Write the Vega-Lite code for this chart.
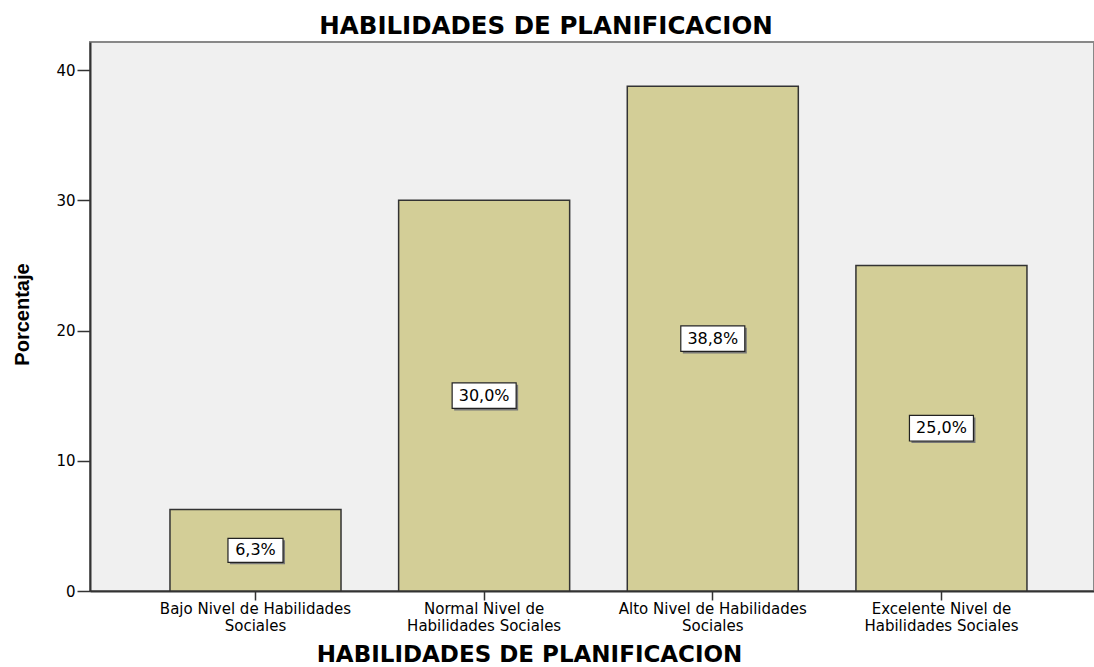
{
  "$schema": "https://vega.github.io/schema/vega-lite/v6.json",
  "width": 1004,
  "height": 549,
  "autosize": {"type": "none"},
  "padding": {"left": 90, "top": 42, "right": 0, "bottom": 76},
  "background": "white",
  "title": {
    "text": "HABILIDADES DE PLANIFICACION",
    "font": "DejaVu Sans",
    "fontSize": 24.5,
    "fontWeight": "bold",
    "color": "#000",
    "anchor": "middle",
    "frame": "group",
    "baseline": "alphabetic",
    "offset": 9,
    "dx": -46,
    "dy": 25
  },
  "config": {
    "view": {"fill": "#f0f0f0", "stroke": "#888", "strokeWidth": 2},
    "axisY": {
      "titleFont": "Liberation Sans",
      "titleFontSize": 20,
      "titleFontWeight": "bold",
      "titleColor": "#000",
      "titleAngle": 270,
      "titleBaseline": "alphabetic",
      "titleAlign": "center",
      "titleX": -61.5,
      "titleY": 272,
      "tickSize": 13,
      "tickColor": "#333",
      "tickWidth": 1.5,
      "domainColor": "#333",
      "domainWidth": 2,
      "labelFont": "DejaVu Sans",
      "labelFontSize": 15,
      "labelColor": "#000",
      "labelPadding": 2,
      "grid": false
    }
  },
  "data": {
    "values": [
      {"categoria": "Bajo Nivel de Habilidades Sociales", "porcentaje": 6.25, "etiqueta": "6,3%"},
      {"categoria": "Normal Nivel de Habilidades Sociales", "porcentaje": 30.0, "etiqueta": "30,0%"},
      {"categoria": "Alto Nivel de Habilidades Sociales", "porcentaje": 38.75, "etiqueta": "38,8%"},
      {"categoria": "Excelente Nivel de Habilidades Sociales", "porcentaje": 25.0, "etiqueta": "25,0%"}
    ]
  },
  "encoding": {
    "x": {
      "field": "categoria",
      "type": "nominal",
      "sort": null,
      "scale": {"paddingInner": 0.252, "paddingOuter": 0.3215, "align": 0.544},
      "axis": {
        "title": "HABILIDADES DE PLANIFICACION",
        "titleFont": "DejaVu Sans",
        "titleFontSize": 23,
        "titleFontWeight": "bold",
        "titleColor": "#000",
        "titleX": 439,
        "titleY": 70,
        "titleBaseline": "alphabetic",
        "titleAlign": "center",
        "labelAngle": 0,
        "labelFont": "DejaVu Sans",
        "labelFontSize": 15,
        "labelColor": "#000",
        "labelLineHeight": 17,
        "labelPadding": 1.5,
        "labelBaseline": "top",
        "labelLimit": 0,
        "labelOverlap": false,
        "labelExpr": "test(regexp('^(Normal|Excelente)'), datum.label) ? [replace(datum.label, ' Habilidades Sociales', ''), 'Habilidades Sociales'] : [replace(datum.label, ' Sociales', ''), 'Sociales']",
        "tickSize": 9,
        "tickColor": "#333",
        "tickWidth": 1.5,
        "domainColor": "#333",
        "domainWidth": 2,
        "grid": false
      }
    }
  },
  "layer": [
    {
      "mark": {"type": "bar", "fill": "#d3ce97", "stroke": "#333", "strokeWidth": 1.5},
      "encoding": {
        "y": {
          "field": "porcentaje",
          "type": "quantitative",
          "title": "Porcentaje",
          "scale": {"domain": [0, 42.15], "nice": false, "zero": true},
          "axis": {"values": [0, 10, 20, 30, 40]}
        }
      }
    },
    {
      "transform": [
        {"calculate": "datum.porcentaje / 2", "as": "mitad"},
        {"calculate": "length(datum.etiqueta)", "as": "nchar"}
      ],
      "mark": {"type": "point", "filled": true, "fill": "#777", "strokeWidth": 0, "opacity": 1, "xOffset": 2, "yOffset": 2},
      "encoding": {
        "y": {"field": "mitad", "type": "quantitative", "title": "Porcentaje", "scale": {"domain": [0, 42.15], "nice": false, "zero": true}},
        "shape": {
          "field": "nchar",
          "type": "nominal",
          "scale": {"domain": [4, 5], "range": ["M-0.86,-0.375H0.86V0.375H-0.86Z", "M-1,-0.4H1V0.4H-1Z"]},
          "legend": null
        },
        "size": {"value": 4096}
      }
    },
    {
      "transform": [
        {"calculate": "datum.porcentaje / 2", "as": "mitad"},
        {"calculate": "length(datum.etiqueta)", "as": "nchar"}
      ],
      "mark": {"type": "point", "filled": true, "fill": "#ffffff", "stroke": "#222", "strokeWidth": 1.2, "opacity": 1},
      "encoding": {
        "y": {"field": "mitad", "type": "quantitative", "title": "Porcentaje", "scale": {"domain": [0, 42.15], "nice": false, "zero": true}},
        "shape": {
          "field": "nchar",
          "type": "nominal",
          "scale": {"domain": [4, 5], "range": ["M-0.86,-0.375H0.86V0.375H-0.86Z", "M-1,-0.4H1V0.4H-1Z"]},
          "legend": null
        },
        "size": {"value": 4096}
      }
    },
    {
      "transform": [
        {"calculate": "datum.porcentaje / 2", "as": "mitad"}
      ],
      "mark": {"type": "text", "font": "DejaVu Sans", "fontSize": 16, "baseline": "middle", "align": "center", "color": "#000"},
      "encoding": {
        "y": {"field": "mitad", "type": "quantitative", "title": "Porcentaje", "scale": {"domain": [0, 42.15], "nice": false, "zero": true}},
        "text": {"field": "etiqueta", "type": "nominal"}
      }
    }
  ]
}
